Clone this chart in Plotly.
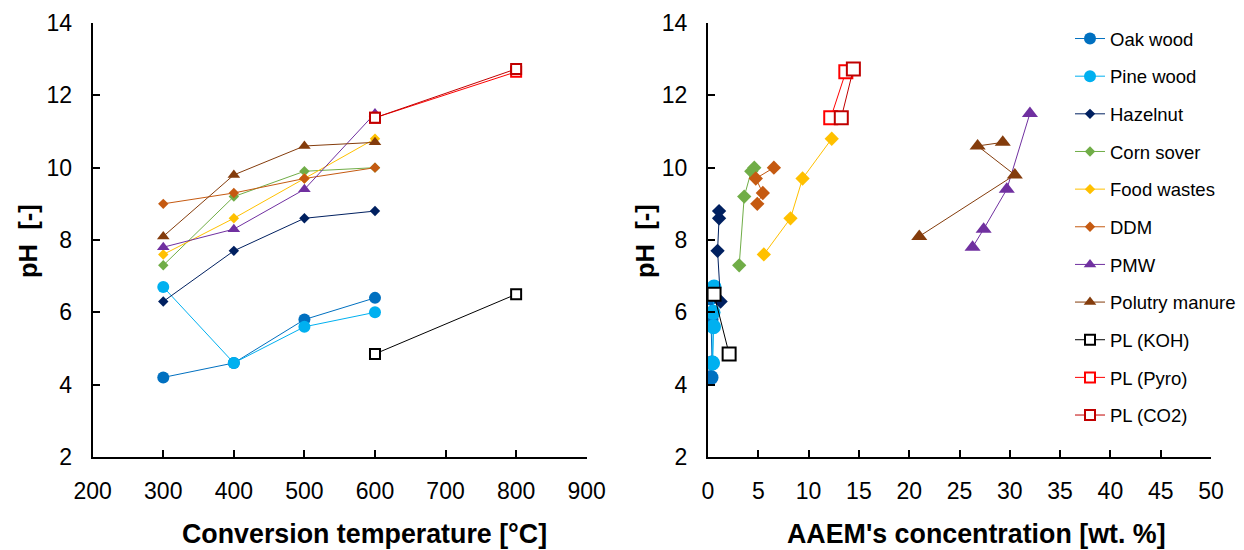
import plotly.graph_objects as go

# ---------------- data ----------------
series_names = ["Oak wood", "Pine wood", "Hazelnut", "Corn sover", "Food wastes",
                "DDM", "PMW", "Polutry manure", "PL (KOH)", "PL (Pyro)", "PL (CO2)"]

temp_4 = [300, 400, 500, 600]
temp_2 = [600, 800]

oak_ph = [4.2, 4.6, 5.8, 6.4]
oak_aaem = [0.3, 0.4, 0.3, 0.2]
pine_ph = [6.7, 4.6, 5.6, 6.0]
pine_aaem = [0.6, 0.45, 0.55, 0.5]
hazel_ph = [6.3, 7.7, 8.6, 8.8]
hazel_aaem = [1.25, 0.95, 1.1, 1.1]
corn_ph = [7.3, 9.2, 9.9, 10.0]
corn_aaem = [3.1, 3.6, 4.3, 4.6]
food_ph = [7.6, 8.6, 9.7, 10.8]
food_aaem = [5.55, 8.2, 9.4, 12.3]
ddm_ph = [9.0, 9.3, 9.7, 10.0]
ddm_aaem = [4.9, 5.45, 4.75, 6.55]
pmw_ph = [7.8, 8.3, 9.4, 11.5]
pmw_aaem = [26.3, 27.4, 29.7, 32.0]
poultry_ph = [8.1, 9.8, 10.6, 10.7]
poultry_aaem = [21.0, 30.5, 26.8, 29.3]
koh_ph = [4.85, 6.5]
koh_aaem = [2.1, 0.6]
pyro_ph = [11.38, 12.65]
pyro_aaem = [12.2, 13.7]
co2_ph = [11.38, 12.73]
co2_aaem = [13.25, 14.45]

x_ticks_left = [200, 300, 400, 500, 600, 700, 800, 900]
x_ticks_right = [0, 5, 10, 15, 20, 25, 30, 35, 40, 45, 50]
y_ticks = [2, 4, 6, 8, 10, 12, 14]

# ---------------- styles ----------------
styles = {
    "Oak wood":       dict(color="#0070C0", symbol="circle", fill="#0070C0", lc="#0070C0", s=(12, 15)),
    "Pine wood":      dict(color="#00B0F0", symbol="circle", fill="#00B0F0", lc="#00B0F0", s=(12, 15)),
    "Hazelnut":       dict(color="#002060", symbol="diamond", fill="#002060", lc="#002060", s=(8, 11)),
    "Corn sover":     dict(color="#70AD47", symbol="diamond", fill="#70AD47", lc="#70AD47", s=(8, 11)),
    "Food wastes":    dict(color="#FFC000", symbol="diamond", fill="#FFC000", lc="#FFC000", s=(8, 11)),
    "DDM":            dict(color="#C55A11", symbol="diamond", fill="#C55A11", lc="#C55A11", s=(8, 11)),
    "PMW":            dict(color="#7030A0", symbol="triangle-up", fill="#7030A0", lc="#7030A0", s=(11, 14)),
    "Polutry manure": dict(color="#843C0C", symbol="triangle-up", fill="#843C0C", lc="#843C0C", s=(11, 14)),
    "PL (KOH)":       dict(color="#000000", symbol="square", fill="#FFFFFF", lc="#000000", s=(10, 13)),
    "PL (Pyro)":      dict(color="#FF0000", symbol="square", fill="#FFFFFF", lc="#FF0000", s=(10, 13)),
    "PL (CO2)":       dict(color="#C00000", symbol="square", fill="#FFFFFF", lc="#C00000", s=(10, 13)),
}

data = {
    "Oak wood": (temp_4, oak_ph, oak_aaem),
    "Pine wood": (temp_4, pine_ph, pine_aaem),
    "Hazelnut": (temp_4, hazel_ph, hazel_aaem),
    "Corn sover": (temp_4, corn_ph, corn_aaem),
    "Food wastes": (temp_4, food_ph, food_aaem),
    "DDM": (temp_4, ddm_ph, ddm_aaem),
    "PMW": (temp_4, pmw_ph, pmw_aaem),
    "Polutry manure": (temp_4, poultry_ph, poultry_aaem),
    "PL (KOH)": (temp_2, koh_ph, koh_aaem),
    "PL (Pyro)": (temp_2, pyro_ph, pyro_aaem),
    "PL (CO2)": (temp_2, co2_ph, co2_aaem),
}

fig = go.Figure()
for name in series_names:
    st = styles[name]
    temps, ph, aaem = data[name]
    is_sq = st["symbol"] == "square"
    for i, (xs, xa) in enumerate([(temps, "x"), (aaem, "x2")]):
        fig.add_trace(go.Scatter(
            x=xs, y=ph, xaxis=xa, yaxis="y" if xa == "x" else "y2",
            mode="lines+markers", name=name, legendgroup=name,
            showlegend=(i == 0),
            line=dict(color=st["lc"], width=1),
            marker=dict(symbol=st["symbol"], size=st["s"][i], color=st["fill"],
                        line=dict(color=st["color"], width=2 if is_sq else 0)),
        ))

# page body has an 8px margin: figure occupies window pixels 8..1244 x 8..550
OFF = 8
W, H = 1244 - OFF, 550 - OFF
def px(v):
    return (v - OFF) / W
def py(v):
    return 1 - (v - OFF) / H

axis_common = dict(showgrid=False, zeroline=False, showline=True, linecolor="black",
                   linewidth=2, ticks="inside", ticklen=7, tickwidth=1.5, tickcolor="black",
                   automargin=False,
                   tickfont=dict(family="Liberation Sans, Arial", size=23, color="black"))

fig.update_layout(
    width=W, height=H,
    margin=dict(l=0, r=0, t=0, b=0, autoexpand=False),
    paper_bgcolor="white", plot_bgcolor="white",
    xaxis=dict(domain=[px(92.7), px(586.7)], range=[200, 900], tickvals=x_ticks_left,
               anchor="y", ticklabelstandoff=12, **axis_common),
    yaxis=dict(domain=[py(457), py(23)], range=[2, 14], tickvals=y_ticks,
               anchor="x", ticklabelstandoff=14, **axis_common),
    xaxis2=dict(domain=[px(708), px(1211)], range=[0, 50], tickvals=x_ticks_right,
                anchor="y2", ticklabelstandoff=12, **axis_common),
    yaxis2=dict(domain=[py(457), py(23)], range=[2, 14], tickvals=y_ticks,
                anchor="x2", ticklabelstandoff=14, **axis_common),
    legend=dict(x=px(1070), y=py(20), xanchor="left", yanchor="top",
                font=dict(family="Liberation Sans, Arial", size=18.5, color="black"),
                bgcolor="rgba(0,0,0,0)", tracegroupgap=10.6),
    showlegend=True,
)

xtitle_font = dict(family="Liberation Sans, Arial", size=26.8, color="black")
ytitle_font = dict(family="Liberation Sans, Arial", size=25.5, color="black")
annots = [
    dict(text="<b>Conversion temperature [°C]</b>", x=px(364), y=py(534), font=xtitle_font),
    dict(text="<b>AAEM's concentration [wt. %]</b>", x=px(976), y=py(534), font=xtitle_font),
    dict(text="<b>pH  [-]</b>", x=px(28), y=py(241), textangle=-90, font=ytitle_font),
    dict(text="<b>pH  [-]</b>", x=px(645), y=py(241), textangle=-90, font=ytitle_font),
]
for a in annots:
    fig.add_annotation(xref="paper", yref="paper", xanchor="center", yanchor="middle",
                       showarrow=False, **a)

fig.write_html("out.html")
